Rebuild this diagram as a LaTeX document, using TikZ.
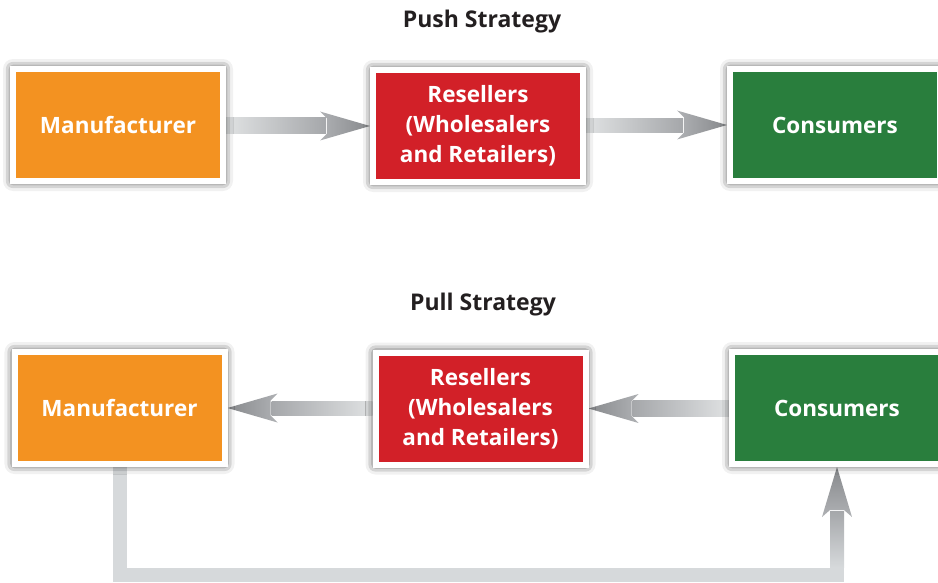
\documentclass[tikz,border=0pt]{standalone}
\usepackage{fontspec}
\setmainfont{Open Sans}
\usetikzlibrary{shadows.blur,calc}
\definecolor{morange}{RGB}{243,146,33}
\definecolor{mred}{RGB}{210,32,40}
\definecolor{mgreen}{RGB}{41,126,61}
\definecolor{shaftlight}{RGB}{224,226,227}
\definecolor{shaftdark}{RGB}{165,167,170}
\definecolor{headlight}{RGB}{175,177,180}
\definecolor{headdark}{RGB}{135,137,140}
\definecolor{lgray}{RGB}{214,217,219}
\definecolor{titlecol}{RGB}{35,31,32}
\pgfdeclarelayer{bg}
\pgfsetlayers{bg,main}
\newcommand\rarrow[2]{%
  \shade[left color=shaftlight, right color=shaftdark] ($(#1.east)+(0,-7.5)$) rectangle ($(#2.west)+(-44,7.5)$);
  \shade[left color=headlight, right color=headdark] (#2.west) -- ($(#2.west)+(-50,-14.5)$) -- ($(#2.west)+(-43,-7.5)$) -- ($(#2.west)+(-43,7.5)$) -- ($(#2.west)+(-50,14.5)$) -- cycle;}
\newcommand\larrow[2]{%
  \shade[right color=shaftlight, left color=shaftdark] ($(#1.west)+(0,-7.5)$) rectangle ($(#2.east)+(44,7.5)$);
  \shade[right color=headlight, left color=headdark] (#2.east) -- ($(#2.east)+(50,-14.5)$) -- ($(#2.east)+(43,-7.5)$) -- ($(#2.east)+(43,7.5)$) -- ($(#2.east)+(50,14.5)$) -- cycle;}
\begin{document}
\begin{tikzpicture}[x=1pt,y=-1pt]
\useasboundingbox (0,0) rectangle (938,583);
\tikzset{
  box/.style={draw=white, line width=6pt, minimum width=210pt, minimum height=112pt,
    inner sep=0pt, align=center, text=white,
    font=\bfseries\fontsize{22.5}{30}\selectfont,
    blur shadow={shadow xshift=0pt, shadow yshift=0pt, shadow blur radius=10pt, shadow opacity=90}},
  title/.style={anchor=base, text=titlecol, font=\bfseries\fontsize{23}{26}\selectfont}
}
\node[title] (t1) at (482,28) {Push Strategy};
\node[box, fill=morange] (m1) at (118,125) {Manufacturer};
\node[box, fill=mred] (r1) at (478,126) {Resellers\\(Wholesalers\\and Retailers)};
\node[box, fill=mgreen] (c1) at (835,125) {Consumers};

\node[title] (t2) at (483,310) {Pull Strategy};
\node[box, fill=morange] (m2) at (119.5,408) {Manufacturer};
\node[box, fill=mred] (r2) at (480.5,408.5) {Resellers\\(Wholesalers\\and Retailers)};
\node[box, fill=mgreen] (c2) at (837,408) {Consumers};

\begin{pgfonlayer}{bg}
\rarrow{m1}{r1}
\rarrow{r1}{c1}
\larrow{r2}{m2}
\larrow{c2}{r2}
\draw[line width=14pt, color=lgray] (m2.south) -- ++(0,108) -| ($(c2.south)+(0,44)$);
\shade[top color=shaftdark, bottom color=lgray] ($(c2.south)+(-7,44)$) rectangle ($(c2.south)+(7,100)$);
\shade[top color=headdark, bottom color=headlight] (c2.south) -- ($(c2.south)+(-15,50)$) -- ($(c2.south)+(-7,43)$) -- ($(c2.south)+(7,43)$) -- ($(c2.south)+(15,50)$) -- cycle;
\end{pgfonlayer}
\end{tikzpicture}
\end{document}
